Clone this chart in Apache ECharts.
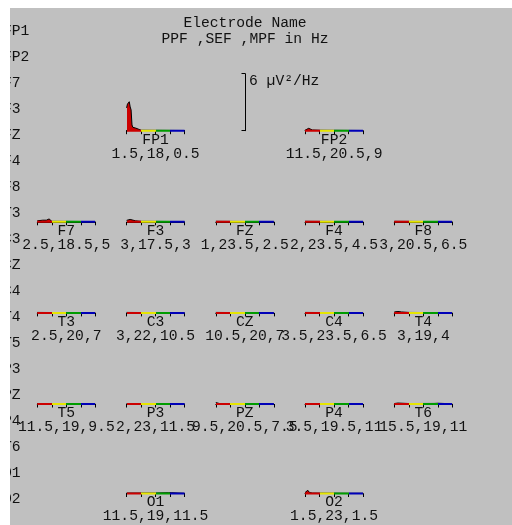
<!DOCTYPE html>
<html>
<head>
<meta charset="utf-8">
<script src="https://cdn.jsdelivr.net/npm/echarts@6/dist/echarts.min.js"></script>
<style>
html,body{margin:0;padding:0;background:#ffffff;width:512px;height:525px;overflow:hidden;}
#main{position:absolute;left:10px;top:8px;width:502px;height:517px;background:#c0c0c0;}
</style>
</head>
<body>
<div id="main"></div>
<script>
// ---------- data ----------
const electrodes = ['FP1','FP2','F7','F3','FZ','F4','F8','T3','C3','CZ','C4','T4','T5','P3','PZ','P4','T6','O1','O2'];
const ppf = [1.5, 11.5, 2.5, 3, 1, 2, 3, 2.5, 3, 10.5, 3.5, 3, 11.5, 2, 9.5, 3.5, 15.5, 11.5, 1.5];
const sef = [18, 20.5, 18.5, 17.5, 23.5, 23.5, 20.5, 20, 22, 20, 23.5, 19, 19, 23, 20.5, 19.5, 19, 19, 23];
const mpf = [0.5, 9, 5, 3, 2.5, 4.5, 6.5, 7, 10.5, 7, 6.5, 4, 9.5, 11.5, 7.5, 11, 11, 11.5, 1.5];

// spectra: [frequency Hz, power µV²/Hz]
const specFP1 = [[0,2.4],[0.5,2.8],[1,3.0],[1.5,3.05],[2,2.5],[2.5,2.2],[3,0.6],[3.5,0.35],[4,0.3],[5,0.28],[5.5,0.2],[6,0.08],[8,0.05],[16,0.04],[24,0.03],[32,0.02]];
const specFP2 = [[0,0.05],[1,0.15],[2,0.25],[3,0.15],[4,0.08],[8,0.05],[16,0.04],[24,0.03],[32,0.02]];
const specF7  = [[0,0.1],[1,0.18],[3,0.17],[5,0.17],[6.5,0.3],[7.5,0.15],[8,0.05],[16,0.04],[24,0.03],[32,0.02]];
const specF3  = [[0,0.15],[1,0.28],[2,0.25],[3,0.12],[5,0.1],[8,0.05],[16,0.04],[24,0.03],[32,0.02]];
const specFZ  = [[0,0.05],[8,0.04],[16,0.03],[24,0.02],[32,0.02]];
const specF4  = [[0,0.05],[8,0.04],[16,0.03],[24,0.02],[32,0.02]];
const specF8  = [[0,0.05],[8,0.04],[16,0.03],[24,0.02],[32,0.02]];
const specT3  = [[0,0.05],[8,0.04],[16,0.03],[24,0.02],[32,0.02]];
const specC3  = [[0,0.05],[8,0.04],[16,0.03],[24,0.02],[32,0.02]];
const specCZ  = [[0,0.05],[8,0.04],[16,0.03],[24,0.02],[32,0.02]];
const specC4  = [[0,0.05],[8,0.04],[16,0.03],[24,0.02],[32,0.02]];
const specT4  = [[0,0.1],[1,0.22],[2,0.15],[4,0.1],[8,0.05],[16,0.04],[24,0.03],[32,0.02]];
const specT5  = [[0,0.05],[8,0.04],[16,0.03],[24,0.02],[32,0.02]];
const specP3  = [[0,0.05],[8,0.04],[16,0.03],[24,0.02],[32,0.02]];
const specPZ  = [[0,0.15],[0.5,0.32],[1,0.08],[2,0.05],[8,0.04],[16,0.03],[24,0.02],[32,0.02]];
const specP4  = [[0,0.05],[8,0.04],[16,0.03],[24,0.02],[32,0.02]];
const specT6  = [[0,0.05],[1,0.24],[2,0.1],[8,0.05],[22,0.06],[23,0.18],[24,0.08],[32,0.02]];
const specO1  = [[0,0.05],[8,0.05],[16,0.05],[23,0.08],[24,0.24],[25,0.08],[32,0.02]];
const specO2  = [[0,0.1],[1.5,0.35],[2.5,0.1],[4,0.05],[8,0.04],[16,0.03],[24,0.02],[32,0.02]];
const spectra = [specFP1,specFP2,specF7,specF3,specFZ,specF4,specF8,specT3,specC3,specCZ,specC4,specT4,specT5,specP3,specPZ,specP4,specT6,specO1,specO2];

const bandEdges = [0, 8, 16, 24, 32];
const bandColors = ['#cc0000', '#e6e600', '#009c00', '#0000b8'];
const scaleTicks = [0, 6];
const scaleUnit = 'µV²/Hz';
const titleLines = ['Electrode Name', 'PPF ,SEF ,MPF in Hz'];

// ---------- layout (not data) ----------
const gridPos = { // [col, row]
  FP1:[1,0], FP2:[3,0],
  F7:[0,1], F3:[1,1], FZ:[2,1], F4:[3,1], F8:[4,1],
  T3:[0,2], C3:[1,2], CZ:[2,2], C4:[3,2], T4:[4,2],
  T5:[0,3], P3:[1,3], PZ:[2,3], P4:[3,3], T6:[4,3],
  O1:[1,4], O2:[3,4]
};
const colX0 = 27.3, colStep = 89.25, rowY0 = 122.7, rowStep = 91.1, gW = 58, gH = 57;
const FONT = "'Courier New','Liberation Mono',monospace";
const FS = 14.67;
const TXT = '#111111';

const grids = [], xAxes = [], yAxes = [], series = [], specIdx = [];
electrodes.forEach((name, i) => {
  const [c, r] = gridPos[name];
  grids.push({ left: colX0 + c*colStep, top: rowY0 + r*rowStep - gH, width: gW, height: gH });
  xAxes.push({
    gridIndex: i, type: 'value', min: bandEdges[0], max: bandEdges[bandEdges.length-1], interval: 8,
    axisLine: { show: true, lineStyle: { color: '#000', width: 1 } },
    axisTick: { show: true, length: 3.5, lineStyle: { color: '#000', width: 1 } },
    axisLabel: { show: false }, splitLine: { show: false },
    name: name + '\n' + ppf[i] + ',' + sef[i] + ',' + mpf[i],
    nameLocation: 'middle', nameGap: 2,
    nameTextStyle: { fontFamily: FONT, fontSize: FS, color: TXT, lineHeight: 14, verticalAlign: 'top', align: 'center' }
  });
  yAxes.push({ gridIndex: i, type: 'value', min: 0, max: 6, show: false });
  specIdx.push(series.length);
  series.push({
    type: 'line', xAxisIndex: i, yAxisIndex: i, data: spectra[i], showSymbol: false, symbol: 'none',
    clip: false, silent: true, z: 2,
    lineStyle: { color: '#000', width: 1 },
    areaStyle: { opacity: 1, origin: 'start' }
  });
  specIdx.push(series.length);
  series.push({
    type: 'line', xAxisIndex: i, yAxisIndex: i, data: bandEdges.map(f => [f, 0]),
    showSymbol: false, symbol: 'none', clip: false, silent: true, z: 3,
    lineStyle: { width: 2 }
  });
});

// scale bar grid
const sIdx = electrodes.length;
grids.push({ left: 235, top: rowY0 - gH, width: 10, height: gH });
xAxes.push({ gridIndex: sIdx, type: 'value', min: 0, max: 1, show: false });
yAxes.push({
  gridIndex: sIdx, type: 'value', min: scaleTicks[0], max: scaleTicks[1], interval: scaleTicks[1], position: 'left',
  axisLine: { show: true, lineStyle: { color: '#000', width: 1 } },
  axisTick: { show: true, length: 3.5, lineStyle: { color: '#000' } },
  splitLine: { show: false },
  axisLabel: { inside: true, margin: 4, verticalAlign: 'top', fontFamily: FONT, fontSize: FS, color: TXT,
    formatter: v => v === scaleTicks[1] ? v + ' ' + scaleUnit : '' }
});

const pieces = bandColors.map((col, k) => k < bandColors.length - 1
  ? { gte: bandEdges[k], lt: bandEdges[k+1], color: col }
  : { gte: bandEdges[k], lte: bandEdges[k+1], color: col });

// left channel list (clipped by panel edge)
const graphics = electrodes.map((name, i) => ({
  type: 'text', x: -7.1, y: 23 + 26*i, silent: true,
  style: { text: name, fontFamily: FONT, fontSize: FS, fill: TXT, textAlign: 'left', textVerticalAlign: 'middle' }
}));
graphics.push({
  type: 'text', x: 235, y: 23, silent: true,
  style: { text: titleLines.join('\n'), fontFamily: FONT, fontSize: FS, fill: TXT, textAlign: 'center', textVerticalAlign: 'middle', lineHeight: 16.6 }
});

const chart = echarts.init(document.getElementById('main'), null, { renderer: 'canvas' });
chart.setOption({
  animation: false,
  backgroundColor: '#c0c0c0',
  grid: grids, xAxis: xAxes, yAxis: yAxes, series: series,
  visualMap: { type: 'piecewise', show: false, dimension: 0, seriesIndex: specIdx, pieces: pieces },
  graphic: graphics
});
</script>
</body>
</html>
